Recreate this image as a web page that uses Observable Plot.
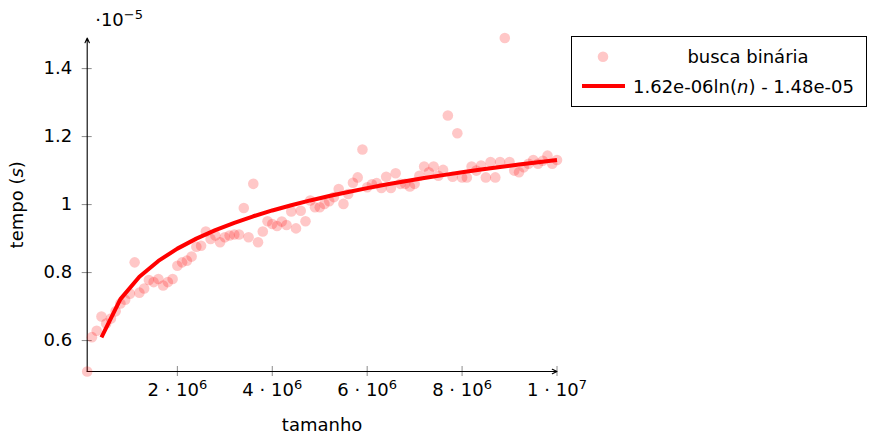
<!DOCTYPE html>
<html>
<head>
<meta charset="utf-8">
<script src="https://cdn.jsdelivr.net/npm/d3@7"></script>
<script src="https://cdn.jsdelivr.net/npm/@observablehq/plot@0.6"></script>
<style>
  html, body { margin: 0; padding: 0; background: #fff; }
  #wrap { position: relative; width: 873px; height: 435px; overflow: hidden; font-family: "DejaVu Sans", sans-serif; }
  #wrap > svg { position: absolute; left: 0; top: 0; }
</style>
</head>
<body>
<div id="wrap"></div>
<script>
// tamanho (n), in millions
const tamanho = [
  0.1,0.2,0.3,0.4,0.5,0.6,0.7,0.8,0.9,1.0,
  1.1,1.2,1.3,1.4,1.5,1.6,1.7,1.8,1.9,2.0,
  2.1,2.2,2.3,2.4,2.5,2.6,2.7,2.8,2.9,3.0,
  3.1,3.2,3.3,3.4,3.5,3.6,3.7,3.8,3.9,4.0,
  4.1,4.2,4.3,4.4,4.5,4.6,4.7,4.8,4.9,5.0,
  5.1,5.2,5.3,5.4,5.5,5.6,5.7,5.8,5.9,6.0,
  6.1,6.2,6.3,6.4,6.5,6.6,6.7,6.8,6.9,7.0,
  7.1,7.2,7.3,7.4,7.5,7.6,7.7,7.8,7.9,8.0,
  8.1,8.2,8.3,8.4,8.5,8.6,8.7,8.8,8.9,9.0,
  9.1,9.2,9.3,9.4,9.5,9.6,9.7,9.8,9.9,10.0
];
// tempo (s), in units of 1e-5 s  — busca binária
const tempo = [
  0.509,0.610,0.629,0.671,0.650,0.665,0.686,0.709,0.720,0.738,
  0.830,0.741,0.753,0.778,0.772,0.781,0.762,0.772,0.781,0.820,
  0.830,0.835,0.847,0.876,0.879,0.921,0.899,0.909,0.889,0.904,
  0.909,0.912,0.912,0.990,0.904,1.061,0.889,0.921,0.951,0.943,
  0.937,0.950,0.940,0.980,0.930,0.982,0.951,1.012,0.992,0.992,
  1.002,1.010,1.022,1.046,1.002,1.031,1.064,1.080,1.162,1.051,
  1.060,1.063,1.049,1.082,1.049,1.092,1.061,1.061,1.053,1.061,
  1.085,1.112,1.095,1.112,1.085,1.102,1.262,1.082,1.210,1.080,
  1.080,1.112,1.100,1.115,1.080,1.125,1.080,1.125,1.490,1.125,
  1.100,1.095,1.110,1.120,1.131,1.120,1.129,1.144,1.120,1.131
];
// fitted curve samples (n in millions, tempo in 1e-5 s)
const fitTamanho = [0.4,0.8,1.2,1.6,2.0,2.4,2.8,3.2,3.6,4.0,4.4,4.8,5.2,5.6,6.0,6.4,6.8,7.2,7.6,8.0,8.4,8.8,9.2,9.6,10.0];
const fitTempo = [0.6097,0.7220,0.7876,0.8343,0.8704,0.8999,0.9249,0.9465,0.9656,0.9827,0.9981,1.0122,1.0252,1.0372,1.0484,1.0588,1.0687,1.0779,1.0867,1.0950,1.1029,1.1104,1.1176,1.1245,1.1311];

const xTicks = [2, 4, 6, 8, 10];
const xTickLabels = ["2 · 10^6", "4 · 10^6", "6 · 10^6", "8 · 10^6", "1 · 10^7"];
const yTicks = [0.6, 0.8, 1.0, 1.2, 1.4];
const yTickLabels = ["0.6", "0.8", "1", "1.2", "1.4"];
const yMultiplier = "·10^−5";
const xLabel = "tamanho";
const yLabel = "tempo (*s*)";
const legendScatter = "busca binária";
const legendFit = "1.62e-06ln(<tspan font-style='italic'>n</tspan>) - 1.48e-05";

const points = tamanho.map((n, i) => ({n, t: tempo[i]}));
const fit = fitTamanho.map((n, i) => ({n, t: fitTempo[i]}));
const [x0, x1] = d3.extent(tamanho);
const [y0, y1] = d3.extent(tempo);

const RED = "#ff0000";
const TICK = "#8c8c8c";

const chart = Plot.plot({
  width: 873,
  height: 435,
  marginLeft: 86.7,
  marginRight: 316.5,
  marginTop: 37.5,
  marginBottom: 64,
  style: {fontFamily: '"DejaVu Sans", sans-serif', fontSize: "18px", color: "#000", background: "transparent", overflow: "visible"},
  x: {domain: [x0, x1], axis: null},
  y: {domain: [y0, y1], axis: null},
  marks: [
    // tick marks crossing the axes
    Plot.ruleX(xTicks, {x: d => d, y1: () => y0, y2: () => y0, insetTop: -5, insetBottom: -5, stroke: TICK, strokeWidth: 1}),
    Plot.ruleY(yTicks, {y: d => d, x1: () => x0, x2: () => x0, insetLeft: -5, insetRight: -5, stroke: TICK, strokeWidth: 1}),
    // axis lines with arrows
    Plot.arrow([0], {x1: () => x0, y1: () => y0, x2: () => x1, y2: () => y0, stroke: "#000", strokeWidth: 1.1, headLength: 7, headAngle: 50}),
    Plot.arrow([0], {x1: () => x0, y1: () => y0, x2: () => x0, y2: () => y1, stroke: "#000", strokeWidth: 1.1, headLength: 7, headAngle: 50}),
    // tick labels
    Plot.text(xTicks, {x: d => d, y: () => y0, dy: 19, text: (d, i) => xTickLabels[i], fill: "#000"}),
    Plot.text(yTicks, {x: () => x0, y: d => d, dx: -15, textAnchor: "end", text: (d, i) => yTickLabels[i], fill: "#000"}),
    Plot.text([yMultiplier], {x: () => x0, y: () => y1, dx: 8, dy: -17.5, textAnchor: "start", text: d => d, fill: "#000"}),
    // axis labels
    Plot.text([xLabel], {x: () => (x0 + x1) / 2, y: () => y0, dy: 54, text: d => d, fill: "#000"}),
    Plot.text([yLabel], {x: () => x0, y: () => (y0 + y1) / 2, dx: -70, rotate: -90, text: d => d, fill: "#000"}),
    // data
    Plot.dot(points, {x: "n", y: "t", r: 5.3, fill: RED, fillOpacity: 0.22, stroke: "none"}),
    Plot.line(fit, {x: "n", y: "t", stroke: RED, strokeWidth: 4, strokeLinecap: "butt", strokeLinejoin: "miter"})
  ]
});

// rich text: "^" superscript, "*x*" italic
d3.select(chart).selectAll("text").each(function () {
  const s = this.textContent;
  if (s.includes("^")) {
    const [base, sup] = s.split("^");
    this.textContent = "";
    d3.select(this).append("tspan").text(base);
    d3.select(this).append("tspan").attr("dy", "-7").attr("font-size", "13px").text(sup);
  } else if (s.includes("*")) {
    const parts = s.split("*");
    this.textContent = "";
    parts.forEach((p, k) => {
      const ts = d3.select(this).append("tspan").text(p);
      if (k % 2 === 1) ts.attr("font-style", "italic");
    });
  }
});

const wrap = document.getElementById("wrap");
wrap.appendChild(chart);

// legend (top right)
const leg = d3.select(wrap).append("svg")
  .attr("width", 873).attr("height", 435)
  .style("font-family", '"DejaVu Sans", sans-serif').style("font-size", "18px");
leg.append("rect").attr("x", 571.5).attr("y", 36.5).attr("width", 295).attr("height", 70)
  .attr("fill", "#fff").attr("stroke", "#000").attr("stroke-width", 1);
leg.append("circle").attr("cx", 603).attr("cy", 56.7).attr("r", 5.3).attr("fill", RED).attr("fill-opacity", 0.22);
leg.append("text").attr("x", 748).attr("y", 63).attr("text-anchor", "middle").text(legendScatter);
leg.append("line").attr("x1", 582).attr("x2", 625).attr("y1", 86).attr("y2", 86).attr("stroke", RED).attr("stroke-width", 4);
leg.append("text").attr("x", 633).attr("y", 93).html(legendFit);
</script>
</body>
</html>
